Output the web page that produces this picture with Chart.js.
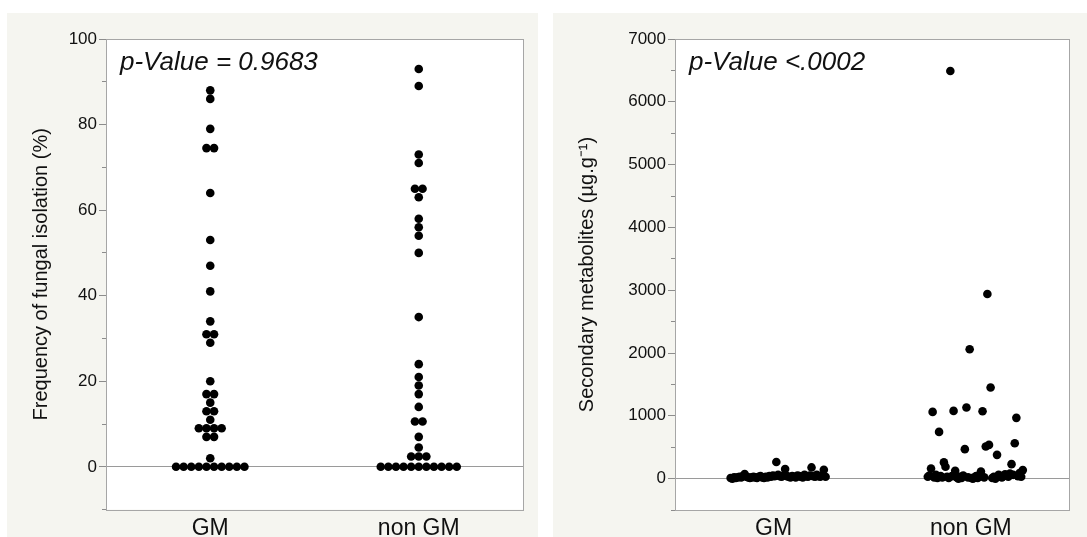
<!DOCTYPE html>
<html>
<head>
<meta charset="utf-8">
<script src="https://cdn.jsdelivr.net/npm/chart.js@4.4.1/dist/chart.umd.min.js"></script>
<style>
    body { margin:0; background:#fff; width:1087px; height:537px; overflow:hidden; position:relative; }
    .panel { position:absolute; background:#f5f5f0; }
    #p1 { left:7px; top:13px; width:531px; height:524px; }
    #p2 { left:553px; top:13px; width:534px; height:524px; }
    canvas { display:block; }
</style>
</head>
<body>
<div class="panel" id="p1"><canvas id="freqChart" width="531" height="524"></canvas></div>
<div class="panel" id="p2"><canvas id="metChart" width="534" height="524"></canvas></div>
<script>
const categories = ['GM', 'non GM'];

// left: frequency of fungal isolation (%), one value per sample
const gmFreq = [88, 86, 79, 74.5, 74.5, 64, 53, 47, 41, 34, 31, 31, 29, 20, 17, 17, 15, 13, 13, 11,
    9, 9, 9, 9, 7, 7, 2, 0, 0, 0, 0, 0, 0, 0, 0, 0, 0];
const nonGmFreq = [93, 89, 73, 71, 65, 65, 63, 58, 56, 54, 50, 35, 24, 21, 19, 17, 14, 10.6, 10.6, 7,
    4.5, 2.4, 2.4, 2.4, 0, 0, 0, 0, 0, 0, 0, 0, 0, 0, 0];

// right: secondary metabolites (ug/g), listed left to right as they sit in the jitter band
const gmMet = [10, 0, 20, 10, 20, 30, 20, 40, 72, 30, 20, 10, 20, 30, 20, 10, 30, 40, 20, 10,
    30, 20, 40, 30, 50, 40, 265, 60, 40, 30, 50, 151, 40, 30, 20, 40, 30, 20, 50, 40,
    30, 20, 60, 40, 30, 50, 178, 40, 30, 60, 40, 30, 50, 140, 30];
const nonGmMet = [30, 50, 162, 1062, 20, 60, 10, 744, 40, 20, 258, 188, 30, 10, 6490, 40, 1078, 124, 20, 0,
    30, 10, 50, 469, 1132, 20, 2060, 10, 0, 20, 40, 10, 30, 114, 1073, 20, 512, 2940, 537, 1450,
    10, 30, 0, 378, 60, 30, 20, 40, 70, 50, 30, 80, 230, 60, 564, 967, 40, 90, 30, 135];

const pValues = ['p-Value = 0.9683', 'p-Value <.0002'];

const FONT = '"Liberation Sans", Arial, sans-serif';
const TEXT = '#111';
const TICK_GREY = '#8c8c8c';

// equal values sit side by side, centred on the category
function dotRows(values, centre, ppu) {
    const gap = 7.6;
    const counts = {}, seen = {};
    values.forEach(v => counts[v] = (counts[v] || 0) + 1);
    return values.map(v => {
        seen[v] = seen[v] === undefined ? 0 : seen[v] + 1;
        const off = (seen[v] - (counts[v] - 1) / 2) * gap;
        return { x: centre + off / ppu, y: v };
    });
}

// spread evenly across the jitter band in reading order
function band(values, centre, ppu) {
    const from = -43, to = 52;
    const step = (to - from) / (values.length - 1);
    return values.map((v, i) => ({ x: centre + (from + i * step) / ppu, y: v }));
}

function tickList(from, to, step) {
    const out = [];
    for (let v = Math.ceil(from / step) * step; v <= to; v += step) out.push({ value: v });
    return out;
}

const framePlugin = {
    id: 'frame',
    beforeDraw(chart) {
        const { ctx, chartArea: a } = chart;
        ctx.save();
        ctx.fillStyle = '#fff';
        ctx.fillRect(a.left, a.top, a.width, a.height);
        ctx.restore();
    },
    afterDraw(chart, args, opts) {
        const { ctx, chartArea: a } = chart;
        ctx.save();
        ctx.strokeStyle = '#a6a6a6';
        ctx.lineWidth = 1;
        ctx.strokeRect(Math.round(a.left) + 0.5, Math.round(a.top) + 0.5, Math.round(a.width), Math.round(a.height));
        ctx.fillStyle = TEXT;
        ctx.font = 'italic 26px ' + FONT;
        ctx.textBaseline = 'alphabetic';
        ctx.fillText(opts.text, a.left + 14, a.top + 31);
        ctx.restore();
    }
};

function makeChart(id, cfg) {
    const chart = new Chart(document.getElementById(id), {
        type: 'scatter',
        data: { datasets: cfg.build(200).map(pts => ({
            data: pts, pointRadius: 4.3, pointBackgroundColor: '#000', pointBorderWidth: 0, pointHoverRadius: 4.3
        })) },
        options: {
            responsive: false,
            animation: false,
            layout: { padding: { top: cfg.top, right: cfg.right, left: 0, bottom: 0 } },
            plugins: { legend: { display: false }, tooltip: { enabled: false }, frame: { text: cfg.pValue } },
            scales: {
                x: {
                    type: 'linear', min: 0.5, max: 2.5,
                    afterBuildTicks: s => { s.ticks = categories.map((c, i) => ({ value: i + 1 })); },
                    ticks: { callback: v => categories[v - 1] || '', font: { family: FONT, size: 23 }, color: TEXT, padding: 5, autoSkip: false, maxRotation: 0 },
                    grid: { display: false, drawTicks: false },
                    border: { display: false },
                    afterFit: s => { s.height = cfg.xHeight; }
                },
                y: {
                    min: cfg.min, max: cfg.max, weight: 1,
                    afterBuildTicks: s => { s.ticks = tickList(0, cfg.max, cfg.major); },
                    ticks: { callback: v => String(v), font: { family: FONT, size: 17 }, color: TEXT, padding: 2, autoSkip: false },
                    grid: { color: c => c.tick && c.tick.value === 0 ? '#9a9a9a' : 'rgba(0,0,0,0)', tickColor: TICK_GREY, tickLength: 7 },
                    border: { display: false },
                    title: { display: true, text: cfg.title, font: { family: FONT, size: 20 }, color: TEXT, padding: { top: 22, bottom: 0 } },
                    afterFit: s => { s.width = cfg.yWidth; }
                },
                yMinor: {
                    axis: 'y', position: 'left', min: cfg.min, max: cfg.max, weight: 0,
                    afterBuildTicks: s => { s.ticks = tickList(cfg.min, cfg.max, cfg.major / 2); },
                    ticks: { display: false, autoSkip: false },
                    grid: { drawOnChartArea: false, tickColor: TICK_GREY, tickLength: 4 },
                    border: { display: false },
                    afterFit: s => { s.width = 0; }
                }
            }
        },
        plugins: [framePlugin]
    });
    // redo the dot offsets with the real pixels per unit
    const ppu = chart.scales.x.width / 2;
    cfg.build(ppu).forEach((pts, i) => { chart.data.datasets[i].data = pts; });
    chart.update('none');
    return chart;
}

makeChart('freqChart', {
    min: -10, max: 100, major: 20,
    title: 'Frequency of fungal isolation (%)',
    pValue: pValues[0],
    top: 26, right: 15, yWidth: 99, xHeight: 27.4,
    build: ppu => [dotRows(gmFreq, 1, ppu), dotRows(nonGmFreq, 2, ppu)]
});

makeChart('metChart', {
    min: -500, max: 7000, major: 1000,
    title: 'Secondary metabolites (µg.g⁻¹)',
    pValue: pValues[1],
    top: 26, right: 17.6, yWidth: 122, xHeight: 27,
    build: ppu => [band(gmMet, 1, ppu), band(nonGmMet, 2, ppu)]
});
</script>
</body>
</html>
